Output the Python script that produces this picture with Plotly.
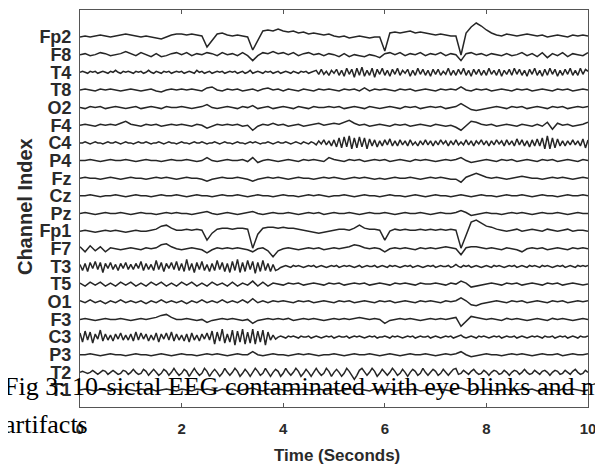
import numpy as np
import plotly.graph_objects as go

# channel names, top to bottom
channels = ['Fp2', 'F8', 'T4', 'T8', 'O2', 'F4', 'C4', 'P4', 'Fz', 'Cz', 'Pz',
            'Fp1', 'F7', 'T3', 'T5', 'O1', 'F3', 'C3', 'P3', 'T2', 'T1']

x_ticks = [0, 2, 4, 6, 8, 10]

# deflections (pixels, up = positive)
# 101 samples = 0.1 s steps, 201 samples = 0.05 s steps
Fp2 = [0, 1, 0, 1, 2, 1, 0, 1, 2, 3,
       2, 1, 0, 1, 0, -1, -2, 0, 2, 3,
       3, 2, 3, 2, 1, -10, -3, 3, 4, 2,
       1, 2, 1, 0, -13, -3, 6, 7, 6, 8,
       6, 5, 6, 4, 5, 3, 4, 3, 2, 3,
       1, 0, 1, -1, 0, 1, 0, -1, 0, 0,
       -14, 4, 5, 4, 5, 6, 4, 5, 4, 3,
       2, 3, 2, 1, 1, -18, 4, 10, 14, 11,
       7, 4, 2, 1, 3, 2, 1, 2, 3, 2,
       1, 2, 0, 1, 2, 1, 0, 2, 1, 2, 1]
F8 = [0, 1, -1, 0, 2, 1, -1, 0, 1, 3,
      1, -1, 2, 0, -2, 1, -2, -1, 1, 2,
      0, 2, -1, 1, 0, 2, 1, -1, 2, 0,
      1, -1, 2, -1, -6, -1, 2, 1, 3, 1,
      2, 0, 2, -1, 1, 2, 0, 1, -1, 1,
      0, -2, 1, -2, 0, -1, -2, 0, -1, -3,
      1, 2, 0, 2, -1, 1, 0, 2, -1, 1,
      0, 2, -1, 1, 0, -6, 1, 2, 0, 1,
      -1, 1, 0, -1, 1, -1, 0, 2, -1, 1,
      -2, 2, -3, 1, -1, 2, -2, 1, 0, -1, 2]
T4 = [0, 1, 0, -1, 1, 0, 1, -1, 0, 1, 0, -1, 1, 0, 2, 0, -1, 1, 0, 1,
      0, -1, 1, 0, 1, -1, 0, 2, 0, -1, 1, 0, -1, 1, 0, 1, -1, 0, 1, 0,
      1, -1, 0, 1, 0, -1, 2, 0, 1, -1, 0, 1, -1, 0, 1, 0, 1, -1, 0, 1,
      0, 1, -1, 0, 1, -1, 0, 2, -1, 0, 1, 0, -1, 1, 0, 1, -1, 0, 1, -1,
      0, 1, 0, -1, 1, 0, -1, 1, 0, 1, -1, 0, 1, 2, -2, 3, -2, 1, -3, 2,
      -1, 3, -3, 2, -4, 4, -2, 3, -5, 4, -3, 5, -4, 2, -3, 4, -5, 3, -2, 4,
      -3, 2, -4, 3, -2, 4, -3, 2, -1, 3, -4, 2, -3, 4, -2, 3, -3, 2, -4, 3,
      -2, 3, -3, 1, -2, 4, -3, 2, -3, 3, -2, 4, -3, 2, -4, 3, -2, 3, -3, 2,
      -3, 4, -2, 2, -3, 3, -4, 2, -2, 3, -3, 4, -2, 3, -3, 2, -4, 3, -2, 4,
      -3, 2, -4, 3, -3, 4, -2, 3, -4, 2, -3, 3, -2, 4, -3, 2, -3, 4, -2, 3, 1]
T8 = [0, 1, 0, -1, 1, 0, 1, 0, -1, 0,
      1, 0, -1, 0, 1, -1, -2, 0, 1, 0,
      1, 0, 1, 0, -1, 2, 3, 0, -1, 1,
      0, 1, -1, 0, 1, -1, 1, 2, 0, 1,
      -1, 1, 0, -1, 1, 0, -1, 1, 0, 1,
      0, -1, 1, 0, 1, -1, 2, -1, 1, 0,
      1, 0, -1, 1, 0, 1, -1, 0, 1, 0,
      -1, 1, 0, 1, 0, 3, 0, -1, 1, 0,
      1, -1, 0, 1, 0, -1, 1, 0, 1, -1,
      0, 1, 0, -1, 1, 0, 1, -1, 0, 1, 0]
O2 = [0, -1, 1, 0, 1, -1, 0, 1, 0, -1,
      0, 1, -1, 0, 1, 0, -1, 1, 0, 0,
      1, 0, -1, 0, 1, 3, 0, -1, 0, 1,
      0, -1, 1, 0, 2, -1, 0, 1, -1, 0,
      1, 0, -1, 1, 0, -1, 1, 0, 0, 1,
      0, 1, -1, 0, 1, 0, -1, 1, 0, -1,
      0, 1, 0, -1, 1, 0, 1, -1, 0, 1,
      0, 1, -1, 0, 1, 4, 1, -2, -3, -2,
      -1, 0, 1, 0, -1, 1, 0, 1, -1, 0,
      1, 0, -1, 1, 0, 1, -1, 0, 1, 0, 1]
F4 = [0, 1, 0, -1, 1, 0, 1, 0, 2, 4,
      1, 0, -1, 1, 0, 1, -1, 0, 1, 0,
      1, 0, -1, 1, 0, -3, -1, 1, 0, 1,
      0, 1, -1, 0, -5, -1, 1, 0, 2, 0,
      1, -1, 0, 1, -1, 0, 1, 2, 0, 1,
      2, 1, 3, 5, 2, 0, 1, -1, 0, 1,
      0, -1, 1, 0, 1, -1, 0, 1, 0, -1,
      1, 0, -1, 0, -2, -5, 0, 4, 3, 1,
      0, 1, -1, 0, 1, 0, -1, 1, 0, -1,
      1, -1, 3, -4, 2, 0, 1, -1, 0, 1, 3]
C4 = [0, 0, 1, 0, -1, 0, 1, 0, 0, -1, 0, 1, 0, 0, 1, 0, -1, 0, 1, 0,
      0, -1, 0, 1, 0, 0, 1, 0, -1, 0, 0, 1, 0, -1, 0, 1, 0, 0, -1, 0,
      1, 0, 0, -1, 0, 1, 0, 0, 1, 0, -1, 0, 0, 1, 0, -1, 0, 1, 0, 0,
      -1, 0, 1, 0, 0, -1, 0, 1, 0, 1, 0, -1, 0, 0, 1, 0, -1, 0, 1, 0,
      0, 1, 0, -1, 0, 1, 0, -1, 1, 0, -1, 1, 0, -2, 2, -1, 3, -2, 2, -3,
      3, -4, 5, -5, 6, -4, 7, -6, 5, -5, 6, -4, 5, -6, 4, -3, 3, -4, 2, -3,
      3, -2, 4, -3, 2, -3, 3, -2, 2, -3, 3, -2, 1, -3, 2, -2, 3, -2, 2, -3,
      2, -2, 3, -1, 2, -3, 2, -2, 3, -2, 1, -2, 3, -2, 2, -3, 2, -1, 3, -2,
      2, -3, 2, -2, 3, -1, 2, -3, 3, -2, 2, -3, 4, -2, 3, -3, 2, -4, 3, -3,
      4, -3, 5, -6, 7, -6, 5, -5, 4, -3, 2, -3, 2, -2, 3, -2, 2, -3, 4, -5, 3]
P4 = [0, 0, 1, 0, -1, 0, 1, 0, 0, 1,
      0, -1, 0, 1, 0, 0, -1, 0, 1, 0,
      0, 1, 0, -1, 0, 3, 0, -1, 0, 1,
      0, 0, 1, -1, 3, -2, 0, 1, 0, -1,
      0, 1, 0, -1, 1, 0, 1, 0, -1, 3,
      1, 0, -1, 1, 0, 1, -1, 0, 1, 0,
      1, -1, 0, 1, 0, -1, 1, 0, 1, 0,
      -1, 0, 1, 0, 1, 3, 0, -2, -1, 0,
      1, 0, -1, 1, 0, 1, -1, 0, 1, 0,
      -1, 1, 0, 1, -1, 0, 1, 0, -1, 1, 0]
Fz = [0, 1, 0, 0, -1, 0, 1, 0, -1, 0,
      1, 0, 0, -1, 0, 1, 0, 1, 0, -1,
      0, 1, 0, 0, -1, -3, -1, 0, 1, 0,
      0, 1, 0, -1, -3, -1, 0, 1, 0, 1,
      0, -1, 0, 1, 0, 0, -1, 0, 1, 0,
      1, 0, -1, 0, 1, 0, 1, 0, -1, 0,
      -1, 0, 1, 0, 0, 1, 0, -1, 0, 1,
      0, 1, 0, -1, -1, -4, 1, 3, 5, 3,
      1, 0, 1, 0, -1, 0, 1, 2, 1, 0,
      0, -1, 0, 1, 0, 1, 0, -1, 0, 1, 0]
Cz = [0, 0, 1, 0, -1, 0, 0, 1, 0, -1,
      0, 1, 0, 0, -1, 0, 1, 0, 0, 1,
      0, -1, 0, 1, 0, 0, -1, 0, 1, 0,
      0, 1, 0, -1, 0, 1, 0, 0, -1, 0,
      1, 0, 0, -1, 0, 1, 0, 1, 0, -1,
      0, 0, 1, 0, -1, 0, 1, 0, 0, -1,
      0, 1, 0, 0, -1, 0, 1, 0, -1, 0,
      1, 0, 0, -1, 0, 1, 0, -1, 0, 1,
      0, 0, -1, 0, 1, 0, 0, 1, 0, -1,
      0, 1, 0, 0, -1, 0, 1, 0, 0, 1, 0]
Pz = [0, 1, 0, -1, 0, 1, 0, 0, 1, 0,
      -1, 0, 1, 0, 0, -1, 0, 1, 0, 1,
      0, 0, -1, 0, 1, 2, 0, -1, 0, 1,
      0, -1, 0, 1, 2, 0, -1, 0, 1, 0,
      0, 1, 0, -1, 0, 1, 0, 1, -1, 0,
      1, 0, 0, 1, 0, -1, 0, 1, 0, 0,
      1, 0, -1, 0, 1, 0, 0, 1, 0, -1,
      0, 1, 0, 0, 1, 3, 1, -2, -1, 0,
      1, 0, 0, -1, 0, 1, 0, 1, 0, -1,
      0, 1, 0, 0, 1, 0, -1, 0, 1, 0, 0]
Fp1 = [0, 1, 0, -1, 0, 1, 0, 1, 0, -1,
       0, 1, 0, 0, 1, 2, 5, 6, 3, 1,
       1, 2, 1, 2, 1, -9, -2, 2, 3, 3,
       2, 3, 3, 2, -17, -3, 3, 4, 4, 3,
       4, 3, 3, 2, 1, 0, -1, -2, -1, 0,
       1, 2, 2, 1, 3, 6, 3, 2, 2, 1,
       -9, 0, 2, 1, 2, 1, 1, 2, 1, 2,
       1, 2, 1, 2, 1, -17, -4, 9, 11, 8,
       5, 4, 2, 1, 0, 1, 2, 0, 1, 2,
       1, 0, 2, 1, 0, 1, 2, 0, 1, 1, 0]
F7 = [2, -3, 3, -2, 2, -3, 1, 0, -1, 0,
      1, 0, -1, 1, 0, 1, 4, 5, 2, 0,
      -1, 0, 1, 0, -1, -4, -1, 1, 0, 1,
      0, 1, 0, -1, -3, 0, 1, -2, -8, -2,
      0, 1, 0, -1, 0, 1, 0, 1, -1, 0,
      1, 0, 1, 2, 4, 3, 1, 0, 1, 0,
      -3, 0, 1, 0, 1, 0, -1, 1, 0, 1,
      0, 1, 2, 1, 0, -6, 1, 2, 2, 1,
      0, 1, 0, -1, 1, 0, -1, -3, 0, 1,
      0, 1, -1, 0, 1, 0, -1, 1, 0, 1, 0]
T3 = [2, -4, 3, -5, 4, -2, 5, -3, 4, -6, 3, -2, 4, -3, 2, -4, 3, -2, 4, -3,
      2, -3, 3, -2, 5, -4, 3, -3, 2, -4, 6, -3, 4, -5, 3, -2, 4, -3, 5, -4,
      3, -5, 7, -4, 3, -6, 4, -3, 5, -4, 2, -5, 3, -4, 6, -3, 4, -5, 3, -6,
      5, -4, 7, -6, 4, -5, 6, -3, 5, -7, 4, -5, 6, -4, 3, -5, 2, -4, -3, -1,
      0, 1, 0, -1, 1, 0, 1, 0, -1, 0, 1, 0, 1, -1, 0, 1, 0, -1, 0, 1,
      0, 1, -1, 0, 1, 0, 1, 0, -1, 0, 1, -1, 0, 1, 0, 0, 1, -1, 0, 1,
      0, -1, 1, 0, 1, 0, -1, 0, 1, 0, 1, -1, 0, 1, 0, -1, 0, 1, 0, 1,
      -1, 0, 1, 0, 0, 1, -1, 0, 2, 0, -1, 1, 0, 1, -1, 0, 1, 0, -1, 0,
      1, 0, -1, 1, 0, 1, 0, -1, 0, 1, 0, 1, -1, 0, 1, 0, -1, 1, 0, 1,
      0, -1, 1, 0, 1, 0, -1, 0, 1, 0, 1, -1, 0, 1, 0, -1, 1, 0, 1, 0, 1]
T5 = [1, -2, 2, -1, 2, -2, 1, -2, 2, -1,
      2, -2, 1, -2, 2, -1, 2, -2, 1, -2,
      2, -1, 2, -2, 1, -2, 2, -1, 1, -2,
      2, -2, 1, -1, 3, -2, 2, -2, 1, 0,
      -1, 1, 0, 1, -1, 0, 1, 0, -1, 1,
      0, 1, -1, 0, 1, 0, 1, -1, 0, 1,
      0, -1, 1, 0, 1, 0, -1, 1, 0, 0,
      1, 0, -1, 1, 0, 3, 1, -3, -2, -1,
      0, 1, 0, -1, 1, 0, 1, -1, 0, 1,
      0, -1, 1, 0, 1, -1, 0, 1, 0, -1, 0]
O1 = [1, -1, 2, -1, 1, -2, 1, -1, 2, -1,
      1, -1, 1, -2, 1, -1, 2, -1, 1, -1,
      1, -2, 1, -1, 2, -1, 1, -1, 2, -1,
      1, -1, 2, -1, 3, -1, 1, -1, 1, 0,
      1, 0, -1, 1, 0, 1, -1, 0, 1, 0,
      -1, 1, 0, 1, -1, 0, 1, 0, -1, 1,
      0, 1, -1, 0, 1, 0, -1, 1, 0, 1,
      0, -1, 1, 0, 1, 4, 1, -3, -4, -2,
      -1, 0, 1, 0, -1, 1, 0, 1, -1, 0,
      1, 0, -1, 1, 0, 1, -1, 0, 1, 0, 1]
F3 = [0, 1, 0, -1, 0, 1, 0, 0, 1, 0,
      -1, 0, 1, 0, 1, 2, 4, 5, 2, 0,
      0, 1, 0, -1, 0, -3, -1, 0, 1, 0,
      1, 0, -1, 0, -4, -1, 0, 1, 0, 1,
      0, 1, -1, 0, 1, 0, 1, 0, -1, 0,
      1, 0, 1, 0, 1, 2, 1, 0, 1, 0,
      -4, -1, 0, 1, 0, 1, 0, -1, 0, 1,
      0, 1, 0, 1, 2, -7, -2, 3, 2, 1,
      0, 1, 0, -1, 1, 0, 1, 0, -1, 0,
      1, 0, -1, 1, 0, 1, 0, -1, 0, 1, 0]
C3 = [4, -5, 6, -3, 5, -6, 3, -2, 7, -4, 3, -3, 2, -4, 3, -2, 4, -3, 2, -3,
      3, -4, 5, -3, 4, -2, 3, -4, 2, -3, 4, -5, 3, -2, 4, -3, 5, -4, 3, -3,
      2, -4, 3, -5, 4, -3, 2, -4, 3, -2, 4, -3, 6, -7, 5, -4, 8, -6, 3, -5,
      7, -8, 6, -5, 8, -7, 5, -6, 8, -7, 6, -5, 7, -8, 5, -3, 2, -2, 0, 1,
      0, -1, 1, 0, 1, 0, -1, 1, 0, 0, 1, -1, 0, 1, 0, -1, 0, 1, 0, 1,
      -1, 0, 1, 0, 0, 1, -1, 0, 1, 0, 1, 0, -1, 0, 1, 0, 1, -1, 0, 0,
      1, 0, -1, 1, 0, 1, 0, -1, 0, 1, 0, 1, -1, 0, 1, 0, 0, 1, -1, 0,
      1, 0, -1, 0, 1, 0, 1, -1, 0, 1, 2, 0, -1, 0, 1, 0, -1, 1, 0, 1,
      0, -1, 0, 1, 0, 1, -1, 0, 1, 0, 0, 1, -1, 0, 1, 0, -1, 0, 1, 0,
      1, 0, -1, 1, 0, 0, 1, -1, 0, 1, 0, 1, -1, 0, 1, 0, -1, 1, 0, 0, 1]
P3 = [0, 0, 1, 0, -1, 0, 1, 0, 0, -1,
      0, 1, 0, 0, -1, 0, 1, 0, -1, 0,
      1, 0, 0, -1, 0, 1, 0, 1, 0, -1,
      0, 1, 0, 0, 3, 0, -1, 0, 1, 0,
      0, -1, 0, 1, 0, 1, 0, -1, 0, 0,
      1, 0, -1, 0, 1, 0, 0, 1, 0, -1,
      0, 1, 0, -1, 0, 1, 0, 0, 1, 0,
      -1, 0, 1, 0, 1, 3, 0, -2, -1, 0,
      1, 0, 0, -1, 0, 1, 0, 1, 0, -1,
      0, 1, 0, 0, 1, -1, 0, 1, 0, 0, 1]
T2 = [0, 1, 0, -1, 0, 2, 0, -2, 0, 2, 1, -2, 0, 2, 0, -2, -1, 2, 1, -2,
      0, 3, 0, -2, -1, 3, 1, -3, 0, 3, 0, -3, -1, 3, 1, -3, 0, 4, 0, -3,
      -1, 3, 1, -4, 0, 4, 0, -3, -1, 4, 1, -4, 0, 3, 0, -4, -1, 4, 0, -3,
      0, 4, 1, -4, -1, 3, 0, -4, 0, 4, 1, -3, -1, 4, 0, -4, 0, 3, 1, -4,
      -1, 4, 0, -3, 0, 4, 1, -4, -1, 3, 0, -4, 0, 4, 0, -3, -1, 4, 1, -4,
      0, 3, 0, -4, -1, 4, 1, -3, -7, -3, 2, 4, 0, -3, 0, 4, 1, -4, -1, 3,
      0, -3, 0, 4, 1, -3, -1, 3, 0, -4, 0, 3, 1, -3, -1, 4, 0, -3, 0, 3,
      1, -3, -1, 3, 0, -3, 0, 3, 4, -2, -1, 2, 0, -2, 1, 3, 0, -2, -1, 2,
      0, -3, 0, 2, 1, -2, -1, 2, 0, -3, 0, 2, 1, -2, 0, 3, 0, -2, -1, 2,
      0, -2, 1, 2, 0, -3, 0, 2, 1, -2, -1, 2, 0, -2, 1, 3, 0, -2, -1, 2, 0]
T1 = [0, 1, 0, -1, 1, 0, -1, 1, 0, 1,
      0, -1, 1, 0, 1, -1, 0, 1, 0, -1,
      1, 0, -1, 1, 0, 1, 0, -1, 1, 0,
      1, -1, 0, 1, 2, 0, -1, 1, 0, 1,
      0, -1, 1, 0, 1, 0, -1, 1, 0, 0,
      1, -1, 0, 1, 0, 1, 0, -1, 1, 0,
      0, 1, -1, 0, 1, 0, 1, -1, 0, 1,
      0, 1, 0, -1, 1, 2, 0, -1, 1, 0,
      1, 0, -1, 0, 1, -1, 0, 1, 0, 1,
      -1, 0, 1, 0, -1, 1, 0, 1, 0, -1, 0]

signals = [Fp2, F8, T4, T8, O2, F4, C4, P4, Fz, Cz, Pz,
           Fp1, F7, T3, T5, O1, F3, C3, P3, T2, T1]

spacing = 17.65  # vertical gap between channels
offsets = [-spacing * i for i in range(len(channels))]

fig = go.Figure()
for name, sig, off in zip(channels, signals, offsets):
    t = np.linspace(0, 10, len(sig))
    fig.add_trace(go.Scatter(x=t, y=np.array(sig) + off, mode='lines', name=name,
                             line=dict(color='#262626', width=1.5), showlegend=False))

tick_font = dict(family='Liberation Sans', size=18, color='#2a2a2a', weight='bold')

# the page puts the figure 8px in from the top-left corner
fig.update_layout(
    width=603, height=468,
    margin=dict(l=72, r=23, t=2, b=69),
    paper_bgcolor='white', plot_bgcolor='white',
    xaxis=dict(range=[0, 10], tickvals=x_ticks, ticktext=[str(v) for v in x_ticks],
               ticks='inside', ticklen=4, tickcolor='#555', mirror='ticks',
               showline=True, linecolor='#555', linewidth=1, showgrid=False,
               zeroline=False, tickfont=dict(tick_font, size=15), ticklabelstandoff=8,
               automargin=False),
    yaxis=dict(range=[-370, 27], tickvals=offsets, ticktext=channels, ticks='',
               mirror=True, showline=True, linecolor='#555', linewidth=1,
               showgrid=False, zeroline=False, tickfont=tick_font, ticklabelstandoff=4,
               automargin=False),
)

fig.add_annotation(text='Time (Seconds)', xref='paper', yref='paper', x=0.506, y=-0.121,
                   showarrow=False, xanchor='center', yanchor='middle',
                   font=dict(family='Liberation Sans', size=17, color='#2a2a2a', weight='bold'))
fig.add_annotation(text='Channel Index', xref='paper', yref='paper', x=-0.108, y=0.504,
                   showarrow=False, textangle=-90, xanchor='center', yanchor='middle',
                   font=dict(family='Liberation Sans', size=20, color='#2a2a2a', weight='bold'))

# figure caption lying over the chart
cap_font = dict(family='Liberation Serif', size=26, color='black')
fig.add_annotation(text='Fig 3: 10-sictal EEG contaminated with eye blinks and muscle',
                   xref='paper', yref='paper', x=-78 / 508, y=(407 - 386) / 397,
                   showarrow=False, xanchor='left', yanchor='middle', font=cap_font)
fig.add_annotation(text='artifacts', xref='paper', yref='paper', x=-78 / 508,
                   y=(407 - 424) / 397, showarrow=False, xanchor='left',
                   yanchor='middle', font=cap_font)

fig.write_html("out.html")
